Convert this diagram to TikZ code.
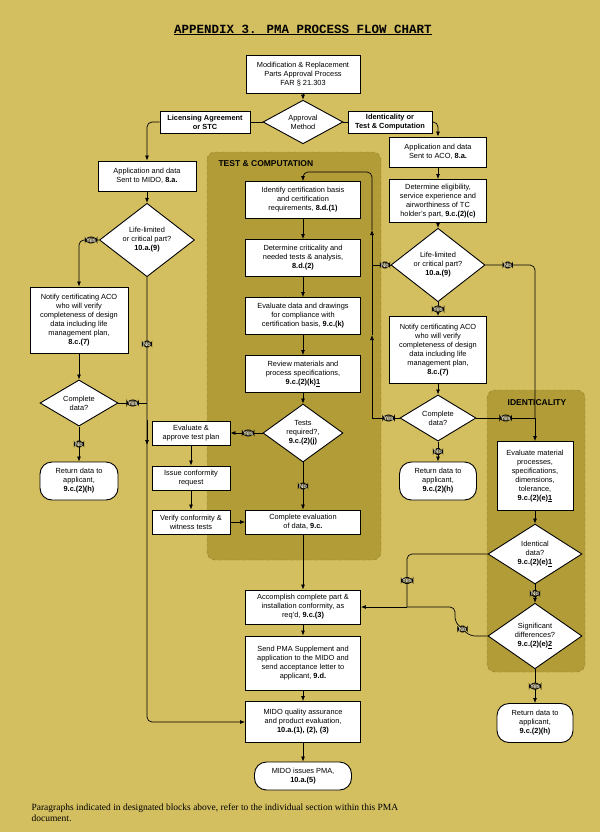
\documentclass[tikz,border=0pt]{standalone}
\usepackage{fontspec}
\setmainfont{Liberation Sans}
\newfontfamily\serifm{Liberation Serif}
\newfontfamily\monof{Liberation Mono}
\usetikzlibrary{shapes.geometric,arrows.meta}
\definecolor{bg}{HTML}{D4BF60}
\definecolor{panel}{HTML}{B29C38}
\definecolor{labfill}{HTML}{5E5632}
\begin{document}
\begin{tikzpicture}[x=1pt,y=-1pt,
  box/.style={draw, line width=0.9pt, fill=white, align=center, font=\fontsize{7.4}{9}\selectfont, inner sep=1pt},
  rbox/.style={box, rounded corners=12pt},
  dia/.style={draw, line width=0.9pt, fill=white, diamond, align=center, font=\fontsize{7.4}{9}\selectfont, inner sep=0pt},
  lab/.style={draw=black, fill=labfill, text=white, font=\fontsize{6}{6.5}\selectfont, inner sep=1pt},
  ln/.style={line width=0.7pt, rounded corners=5pt},
  ar/.style={ln, -{Latex[length=5pt,width=4pt]}},
  pnl/.style={fill=panel, draw=panel!80!black, dashed, rounded corners=8pt}
]
\useasboundingbox[fill=bg] (0,0) rectangle (600,832);
\node[font=\monof\bfseries\fontsize{12.5}{14}\selectfont] (title) at (303,30) {\underline{APPENDIX 3. PMA PROCESS FLOW CHART}};
% panels
\fill[pnl] (207,152) rectangle (381,560);
\node[anchor=west, font=\bfseries\fontsize{8.5}{9}\selectfont] (tcl) at (215,164) {TEST \& COMPUTATION};
\fill[pnl] (487,390) rectangle (585,672);
\node[font=\bfseries\fontsize{8.5}{9}\selectfont] (idl) at (537,403) {IDENTICALITY};
% center
\node[box, minimum width=114, minimum height=38] (top) at (303,74) {Modification \& Replacement\\Parts Approval Process\\FAR § 21.303};
\node[dia, minimum width=80, minimum height=36] (appr) at (303,122) {Approval\\Method};
\node[box, font=\bfseries\fontsize{7.4}{9}\selectfont, minimum width=90, minimum height=22] (lic) at (205,122) {Licensing Agreement\\or STC};
\node[box, font=\bfseries\fontsize{7.4}{9}\selectfont, minimum width=84, minimum height=22] (idt) at (390,122) {Identicality or\\Test \& Computation};
% left column
\node[box, minimum width=98, minimum height=30] (mido) at (147,176) {Application and data\\Sent to MIDO, \textbf{8.a.}};
\node[dia, minimum width=95, minimum height=52] (lifeL) at (147,240) {Life-limited\\or critical part?\\\textbf{10.a.(9)}};
\node[box, minimum width=98, minimum height=66] (notL) at (79,320) {Notify certificating ACO\\who will verify\\completeness of design\\data including life\\management plan,\\\textbf{8.c.(7)}};
\node[dia, minimum width=78, minimum height=38] (compL) at (79,403) {Complete\\data?};
\node[rbox, minimum width=78, minimum height=38] (retL) at (79,481) {Return data to\\applicant,\\\textbf{9.c.(2)(h)}};
% test column
\node[box, minimum width=115, minimum height=37] (ident) at (303,200) {Identify certification basis\\and certification\\requirements, \textbf{8.d.(1)}};
\node[box, minimum width=115, minimum height=37] (crit) at (303,258) {Determine criticality and\\needed tests \& analysis,\\\textbf{8.d.(2)}};
\node[box, minimum width=115, minimum height=37] (evald) at (303,316) {Evaluate data and drawings\\for compliance with\\certification basis, \textbf{9.c.(k)}};
\node[box, minimum width=115, minimum height=37] (rev) at (303,374) {Review materials and\\process specifications,\\\textbf{9.c.(2)(k)\underline{1}}};
\node[dia, minimum width=80, minimum height=52] (tests) at (303,433) {Tests\\required?,\\\textbf{9.c.(2)(j)}};
\node[box, minimum width=78, minimum height=24] (evap) at (191,433) {Evaluate \&\\approve test plan};
\node[box, minimum width=78, minimum height=24] (issue) at (191,478) {Issue conformity\\request};
\node[box, minimum width=78, minimum height=24] (verif) at (191,522) {Verify conformity \&\\witness tests};
\node[box, minimum width=115, minimum height=24] (ceval) at (303,522) {Complete evaluation\\of data, \textbf{9.c.}};
\node[box, minimum width=115, minimum height=34] (accomp) at (303,607) {Accomplish complete part \&\\installation conformity, as\\req'd, \textbf{9.c.(3)}};
\node[box, minimum width=115, minimum height=54] (send) at (303,663) {Send PMA Supplement and\\application to the MIDO and\\send acceptance letter to\\applicant, \textbf{9.d.}};
\node[box, minimum width=115, minimum height=41] (qual) at (303,722) {MIDO quality assurance\\and product evaluation,\\\textbf{10.a.(1), (2), (3)}};
\node[rbox, minimum width=97, minimum height=28] (issues) at (303,776) {MIDO issues PMA,\\\textbf{10.a.(5)}};
% right column
\node[box, minimum width=97, minimum height=30] (aco) at (438,152) {Application and data\\Sent to ACO, \textbf{8.a.}};
\node[box, minimum width=97, minimum height=43] (elig) at (438,201) {Determine eligibility,\\service experience and\\airworthiness of TC\\holder's part, \textbf{9.c.(2)(c)}};
\node[dia, minimum width=94, minimum height=52] (lifeR) at (438,265) {Life-limited\\or critical part?\\\textbf{10.a.(9)}};
\node[box, minimum width=97, minimum height=67] (notR) at (438,350) {Notify certificating ACO\\who will verify\\completeness of design\\data including life\\management plan,\\\textbf{8.c.(7)}};
\node[dia, minimum width=76, minimum height=38] (compR) at (438,418) {Complete\\data?};
\node[rbox, minimum width=77, minimum height=38] (retR) at (438,481) {Return data to\\applicant,\\\textbf{9.c.(2)(h)}};
\node[box, minimum width=76, minimum height=69] (mat) at (535,476) {Evaluate material\\processes,\\specifications,\\dimensions,\\tolerance,\\\textbf{9.c.(2)(e)\underline{1}}};
\node[dia, minimum width=94, minimum height=55] (iddat) at (535,554) {Identical\\data?\\\textbf{9.c.(2)(e)\underline{1}}};
\node[dia, minimum width=94, minimum height=56] (sig) at (535,636) {Significant\\differences?\\\textbf{9.c.(2)(e)\underline{2}}};
\node[rbox, minimum width=76, minimum height=39] (retB) at (535,723) {Return data to\\applicant,\\\textbf{9.c.(2)(h)}};
\node[anchor=north west, align=left, font=\serifm\fontsize{9.5}{11}\selectfont] (foot) at (28,800) {Paragraphs indicated in designated blocks above, refer to the individual section within this PMA\\document.};
% coordinates
\coordinate (jL) at (147,403);
\coordinate (jR) at (372,418);
\coordinate (jI) at (535,418);
\coordinate (jA) at (407,607);
% connectors
\draw[ar] (top) -- (appr);
\draw[ln] (appr) -- (lic);
\draw[ar] (lic.west) -| (mido.north);
\draw[ln] (appr) -- (idt);
\draw[ar] (idt.east) -| (aco.north);
\draw[ar] (mido) -- (lifeL);
\draw[ar] (lifeL.west) -| node[lab, pos=0.2]{Yes} (notL.north);
\draw[ar] (lifeL.south) -- node[lab, pos=0.3]{No} (147,500) |- (qual.west);
\draw[ar] (147,420) -- (147,445);
\draw[ar] (notL) -- (compL);
\draw[ln] (compL.east) -- node[lab, pos=0.5]{Yes} (jL);
\draw[ar] (compL) -- node[lab]{No} (retL);
\draw[ar] (ident) -- (crit);
\draw[ar] (crit) -- (evald);
\draw[ar] (evald) -- (rev);
\draw[ar] (rev) -- (tests);
\draw[ar] (tests) -- node[lab, pos=0.45]{Yes} (evap);
\draw[ar] (tests) -- node[lab]{No} (ceval);
\draw[ar] (evap) -- (issue);
\draw[ar] (issue) -- (verif);
\draw[ar] (verif) -- (ceval);
\draw[ar] (ceval) -- (accomp);
\draw[ar] (accomp) -- (send);
\draw[ar] (send) -- (qual);
\draw[ar] (qual) -- (issues);
\draw[ar] (aco) -- (elig);
\draw[ar] (elig) -- (lifeR);
\draw[ar] (lifeR) -- node[lab]{Yes} (notR);
\draw[ln] (lifeR.west) -- node[lab, pos=0.3]{No} (372,265);
\draw[ar] (notR) -- (compR);
\draw[ar] (compR) -- node[lab]{No} (retR);
\draw[ln] (compR.west) -- node[lab, pos=0.4]{Yes} (jR);
\draw[ar] (jR) -- (372,335);
\draw[ar] (372,335) -- (372,230);
\draw[ar] (372,230) |- (303,172) -- (ident.north);
\draw[ln] (lifeR.east) -- node[lab, pos=0.45]{No} (535,265) -- (jI);
\draw[ln] (compR.east) -- node[lab, pos=0.5]{Yes} (jI);
\draw[ar] (jI) -- (mat);
\draw[ar] (mat) -- (iddat);
\draw[ln] (iddat.west) -| node[lab, pos=0.75]{Yes} (jA);
\draw[ar] (jA) -- (accomp.east);
\draw[ar] (iddat) -- node[lab]{No} (sig);
\draw[ln] (sig.west) -- (470,636) -- node[lab, pos=0.5]{No} (455,622) -- (455,607) -- (jA);
\draw[ar] (sig) -- node[lab]{Yes} (retB);
\end{tikzpicture}
\end{document}
